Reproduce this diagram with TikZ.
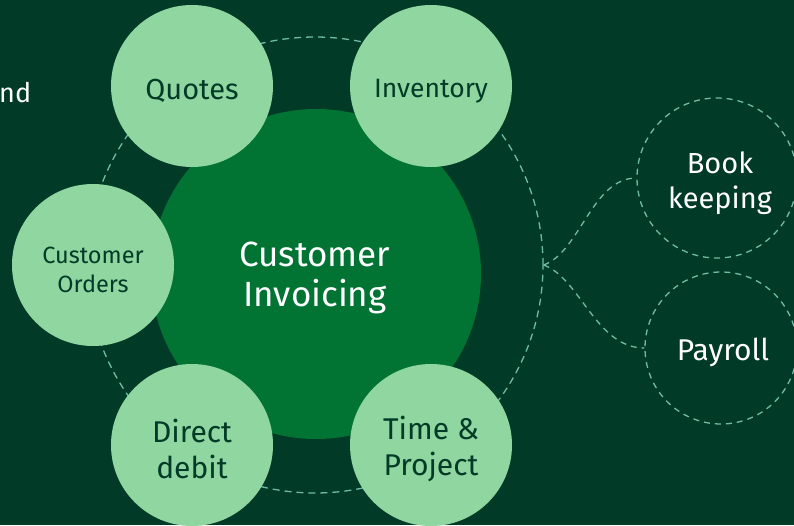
\documentclass[tikz,border=0pt]{standalone}
\usepackage{fontspec}
\setmainfont{Fira Sans}
\definecolor{bg}{HTML}{013A26}
\definecolor{hubc}{HTML}{017434}
\definecolor{sat}{HTML}{90D6A0}
\definecolor{dash}{HTML}{6FBCA7}
\definecolor{darktxt}{HTML}{013A26}
\begin{document}
\begin{tikzpicture}[x=1pt,y=-1pt,
  satellite/.style={circle,fill=sat,minimum size=162pt,inner sep=0pt},
  ghost/.style={circle,draw=dash,dash pattern=on 6pt off 5pt,line width=1.3pt,minimum size=160pt,inner sep=0pt},
  darklabel/.style={text=darktxt,align=center},
  lightlabel/.style={text=white,align=center},
  link/.style={draw=dash,dash pattern=on 6pt off 5pt,line width=1.3pt}]
\fill[bg] (0,0) rectangle (794,525);
\useasboundingbox (0,0) rectangle (794,525);
% outer dashed ring
\node[circle,draw=dash,dash pattern=on 7pt off 5pt,line width=1.3pt,minimum size=456pt,inner sep=0pt] (ring) at (315,265) {};
% hub
\node[circle,fill=hubc,minimum size=330pt,inner sep=0pt] (hub) at (316,274) {};
\node[lightlabel,font=\fontsize{35}{40}\selectfont] (hubtxt) at (315,278) {Customer\\Invoicing};
% satellites
\node[satellite] (quotes) at (192,86) {};
\node[darklabel,font=\fontsize{29}{35}\selectfont] (quotestxt) at (192,91) {Quotes};
\node[satellite] (inv) at (431,86) {};
\node[darklabel,font=\fontsize{26.5}{32}\selectfont] (invtxt) at (431,91) {Inventory};
\node[satellite] (orders) at (93,265) {};
\node[darklabel,font=\fontsize{23.5}{29}\selectfont] (orderstxt) at (93,270) {Customer\\Orders};
\node[satellite] (direct) at (192,445) {};
\node[darklabel,font=\fontsize{30}{36}\selectfont] (directtxt) at (192,449) {Direct\\debit};
\node[satellite] (time) at (431,445) {};
\node[darklabel,font=\fontsize{30}{36}\selectfont] (timetxt) at (431,449) {Time \&\\Project};
% text at left edge
\node[anchor=base west,text=white,font=\fontsize{27}{32}\selectfont,inner sep=0pt] (partial) at (-1,102) {nd};
% right side
\node[ghost] (bk) at (717,178) {};
\node[lightlabel,font=\fontsize{29}{35}\selectfont] (bktxt) at (720,183) {Book\\keeping};
\node[ghost,minimum size=152pt] (pay) at (721,348) {};
\node[lightlabel,font=\fontsize{30}{36}\selectfont] (paytxt) at (723,352) {Payroll};
\coordinate (join) at (ring.east);
\path[link] (join) .. controls (580,252) and (592,178) .. (bk.west);
\path[link] (join) .. controls (580,278) and (596,348) .. (pay.west);
\end{tikzpicture}
\end{document}
